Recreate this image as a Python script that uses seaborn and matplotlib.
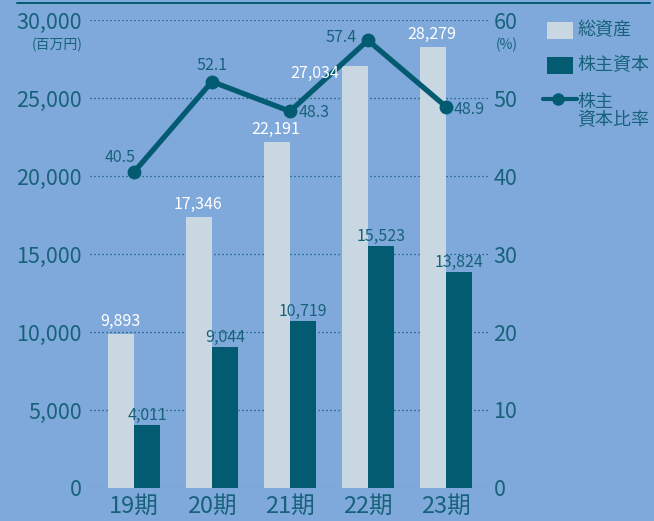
import numpy as np
import pandas as pd
import matplotlib
matplotlib.use("Agg")
import matplotlib.pyplot as plt
from matplotlib.lines import Line2D
from matplotlib.patches import Rectangle
import seaborn as sns

# ---- data ----
periods = ["19期", "20期", "21期", "22期", "23期"]
total_assets = [9893, 17346, 22191, 27034, 28279]
equity = [4011, 9044, 10719, 15523, 13824]
equity_ratio = [40.5, 52.1, 48.3, 57.4, 48.9]
series_names = ["総資産", "株主資本", "株主\n資本比率"]
left_ticks = [0, 5000, 10000, 15000, 20000, 25000, 30000]
left_tick_labels = ["0", "5,000", "10,000", "15,000", "20,000", "25,000", "30,000"]
right_ticks = [0, 10, 20, 30, 40, 50, 60]
right_tick_labels = ["0", "10", "20", "30", "40", "50", "60"]
left_unit = "(百万円)"
right_unit = "(%)"

# ---- style ----
BG = "#80A9DB"
LIGHT = "#C9D7E3"
DARK = "#035B71"
TXT = "#17627A"
FONT = ["Noto Sans CJK JP", "DejaVu Sans"]

sns.set_style("white")
plt.rcParams["font.family"] = FONT

W, H = 654, 521
fig = plt.figure(figsize=(W / 100, H / 100), dpi=100)
fig.patch.set_facecolor(BG)

ax_l, ax_r, ax_t, ax_b = 90, 488, 20, 488
ax = fig.add_axes([ax_l / W, 1 - ax_b / H, (ax_r - ax_l) / W, (ax_b - ax_t) / H])
ax.set_facecolor("none")

df = pd.DataFrame({
    "period": periods * 2,
    "value": total_assets + equity,
    "series": [series_names[0]] * 5 + [series_names[1]] * 5,
})
sns.barplot(data=df, x="period", y="value", hue="series", order=periods,
            hue_order=series_names[:2], palette=[LIGHT, DARK], saturation=1,
            width=0.667, dodge=True, ax=ax, legend=False, linewidth=0, zorder=2)

ax.set_xlim(-0.564, 4.54)
ax.set_ylim(0, 30000)
ax.set_yticks(left_ticks)
ax.set_yticklabels(left_tick_labels)
ax.set_xlabel("")
ax.set_ylabel("")
ax.yaxis.grid(True, linestyle=(0, (1, 2.2)), color=DARK, linewidth=0.9, zorder=1)
ax.set_axisbelow(True)
for s in ax.spines.values():
    s.set_visible(False)
ax.tick_params(axis="y", length=0, pad=6, labelsize=15.5, labelcolor=TXT)
ax.tick_params(axis="x", length=0, pad=5, labelsize=17, labelcolor=TXT)

# ---- ratio line ----
ax2 = ax.twinx()
ax2.set_facecolor("none")
sns.lineplot(x=np.arange(len(periods)), y=equity_ratio, ax=ax2, color=DARK,
             linewidth=3.8, marker="o", markersize=10, markeredgewidth=0,
             zorder=4)
ax2.set_ylim(0, 60)
ax2.set_xlim(-0.564, 4.54)
ax2.set_yticks(right_ticks)
ax2.set_yticklabels(right_tick_labels)
ax2.set_ylabel("")
for s in ax2.spines.values():
    s.set_visible(False)
ax2.tick_params(axis="y", length=0, pad=4, labelsize=15.5, labelcolor=TXT)

# bar value labels (drawn on top of the line)
light_bars = ax.containers[0]
dark_bars = ax.containers[1]
for i, p in enumerate(light_bars):
    x = p.get_x() + p.get_width() / 2
    h = p.get_height()
    if i == 3:
        ax2.annotate(f"{total_assets[i]:,}", (p.get_x(), h), xycoords=ax.transData,
                     xytext=(-3, -7), textcoords="offset pixels", ha="right",
                     va="center", fontsize=11.5, color="white", zorder=7)
    else:
        ax2.annotate(f"{total_assets[i]:,}", (x, h), xycoords=ax.transData,
                     xytext=(-1, 4), textcoords="offset pixels", ha="center",
                     va="bottom", fontsize=11.5, color="white", zorder=7)
for i, p in enumerate(dark_bars):
    x = p.get_x() + p.get_width() / 2
    h = p.get_height()
    ax2.annotate(f"{equity[i]:,}", (x, h), xycoords=ax.transData,
                 xytext=(0, 1), textcoords="offset pixels", ha="center",
                 va="bottom", fontsize=11.5, color=TXT, zorder=7)

ratio_offsets = [
    ((-14, 15), "center", "center"),
    ((0, 16), "center", "center"),
    ((9, -1), "left", "center"),
    ((-11, 3), "right", "center"),
    ((8, -3), "left", "center"),
]
for i, v in enumerate(equity_ratio):
    off, ha, va = ratio_offsets[i]
    ax2.annotate(f"{v}", (i, v), xytext=off, textcoords="offset pixels",
                 ha=ha, va=va, fontsize=11.5, color=TXT, zorder=6)

# units
fig.text(57 / W, 1 - 45 / H, left_unit, ha="center", va="center",
         fontsize=10, color=TXT)
fig.text(507 / W, 1 - 45 / H, right_unit, ha="center", va="center",
         fontsize=10, color=TXT)

# top rule
fig.add_artist(Line2D([17 / W, 650 / W], [1 - 3 / H, 1 - 3 / H],
                      color=DARK, linewidth=1.4))

# ---- legend (manual) ----
fig.add_artist(Rectangle((547 / W, 1 - 39 / H), 26 / W, 17 / H,
                         transform=fig.transFigure, facecolor=LIGHT,
                         edgecolor="none"))
fig.add_artist(Rectangle((547 / W, 1 - 74 / H), 26 / W, 17 / H,
                         transform=fig.transFigure, facecolor=DARK,
                         edgecolor="none"))
fig.add_artist(Line2D([543 / W, 577 / W], [1 - 99 / H, 1 - 99 / H],
                      color=DARK, linewidth=3))
fig.add_artist(Line2D([558 / W], [1 - 99 / H], color=DARK, marker="o",
                      markersize=9, markeredgewidth=0))
fig.text(577 / W, 1 - 30 / H, series_names[0], ha="left", va="center",
         fontsize=13, color=TXT)
fig.text(577 / W, 1 - 65 / H, series_names[1], ha="left", va="center",
         fontsize=13, color=TXT)
fig.text(577 / W, 1 - 111 / H, series_names[2], ha="left", va="center",
         fontsize=13, color=TXT, linespacing=1.0)

fig.savefig("out.png", dpi=100, facecolor=BG)
